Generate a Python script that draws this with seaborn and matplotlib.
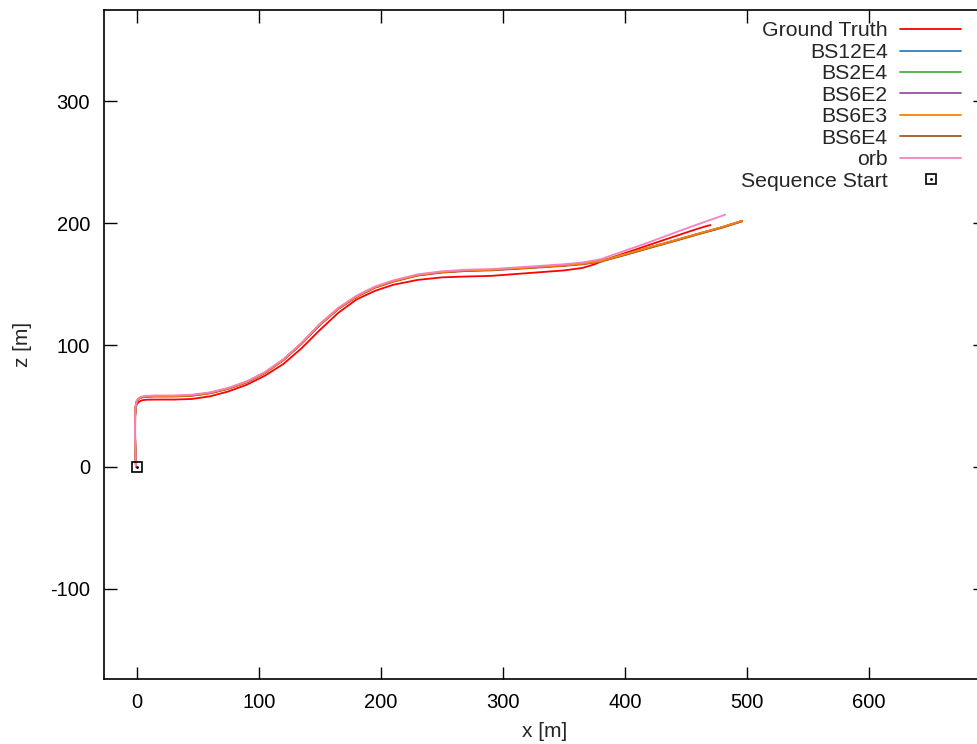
import matplotlib
matplotlib.use("Agg")
import matplotlib.pyplot as plt
from matplotlib.lines import Line2D
import seaborn as sns
import pandas as pd

# ---- trajectory data (x / z in metres) ----
gt_x = [-0.8, -1.2, -1.5, -1.4, -1.0, 0.0, 2, 4.5, 8, 15, 30, 45, 60, 75, 90, 105, 120,
        135, 150, 165, 180, 195, 210, 230, 250, 270, 290, 310, 330, 350, 365, 375, 385,
        400, 420, 440, 455, 465, 470]
gt_z = [0, 12, 28, 42, 48.5, 51.8, 53.8, 54.8, 55.2, 55.3, 55.3, 55.8, 58, 62, 67.5, 75,
        84.5, 97.5, 112.5, 126.5, 137.5, 144.5, 149.5, 153.5, 155.6, 156.3, 156.8, 158.3,
        159.8, 161.3, 163.3, 166.3, 170.5, 175.5, 182.3, 189, 194, 197.2, 198.5]

est_x = [-0.8, -1.3, -1.6, -1.5, -1.1, -0.2, 1.5, 4, 7, 15, 30, 45, 60, 75, 90, 105, 120,
         135, 150, 165, 180, 195, 210, 230, 250, 270, 290, 310, 330, 350, 365, 380, 400,
         420, 440, 460, 480, 496]
bs12e4_z = [0, 12, 28, 42, 49.5, 53.8, 56.2, 57.3, 57.8, 58.1, 58.1, 58.7, 60.7, 64.4,
            69.7, 77.4, 87.9, 101.4, 116.9, 129.9, 139.9, 147.4, 152.4, 157.4, 159.9,
            161.2, 161.7, 162.9, 164.1, 165.4, 166.7, 168.9, 174.3, 180.0, 185.6, 191.3,
            196.8, 201.8]
bs2e4_z = [0, 12, 28, 42, 49.6, 53.9, 56.3, 57.4, 57.9, 58.2, 58.2, 58.8, 60.8, 64.5,
           69.8, 77.5, 88.0, 101.5, 117.0, 130.0, 140.0, 147.5, 152.5, 157.5, 160.0,
           161.3, 161.8, 163.0, 164.2, 165.5, 166.8, 169.0, 174.4, 180.1, 185.7, 191.4,
           196.9, 201.9]
bs6e2_z = [0, 12, 28, 42, 49.5, 53.8, 56.2, 57.3, 57.8, 58.1, 58.2, 58.7, 60.7, 64.4,
           69.7, 77.4, 87.9, 101.4, 116.9, 129.9, 139.9, 147.4, 152.4, 157.4, 159.9,
           161.2, 161.7, 162.9, 164.1, 165.4, 166.7, 168.9, 174.3, 180.0, 185.6, 191.3,
           196.9, 202.1]
bs6e3_z = [0, 12, 28, 42, 49.6, 53.9, 56.3, 57.4, 57.9, 58.2, 58.2, 58.8, 60.8, 64.5,
           69.8, 77.5, 88.0, 101.5, 117.0, 130.0, 140.0, 147.5, 152.5, 157.5, 160.0,
           161.3, 161.8, 163.0, 164.2, 165.5, 166.8, 169.0, 174.5, 180.2, 185.8, 191.5,
           197.0, 202.0]
bs6e4_z = [0, 12, 28, 42, 49.4, 53.6, 56.0, 57.0, 57.5, 57.8, 57.8, 58.4, 60.4, 64.1,
           69.4, 77.1, 87.6, 101.1, 116.6, 129.6, 139.6, 147.0, 152.0, 157.0, 159.5,
           160.8, 161.3, 162.5, 163.7, 165.0, 166.3, 168.4, 173.9, 179.6, 185.2, 190.9,
           196.4, 201.5]

orb_x = [-0.8, -1.3, -1.6, -1.5, -1.1, -0.2, 1.5, 4, 7, 15, 30, 45, 60, 75, 90, 105, 120,
         135, 150, 165, 180, 195, 210, 230, 250, 270, 290, 310, 330, 350, 365, 380, 400,
         420, 440, 460, 482]
orb_z = [0, 12, 28, 42, 49.8, 54.2, 56.7, 57.8, 58.3, 58.7, 58.7, 59.3, 61.3, 65.0,
         70.3, 78.0, 88.5, 102.0, 117.6, 130.6, 140.6, 148.1, 153.1, 158.1, 160.6,
         161.9, 162.4, 163.7, 165.0, 166.4, 167.8, 170.5, 177.5, 184.5, 192.0, 199.3,
         207.0]

start_x = [0]
start_z = [0]

labels = ["Ground Truth", "BS12E4", "BS2E4", "BS6E2", "BS6E3", "BS6E4", "orb"]
xs = [gt_x, est_x, est_x, est_x, est_x, est_x, orb_x]
zs = [gt_z, bs12e4_z, bs2e4_z, bs6e2_z, bs6e3_z, bs6e4_z, orb_z]
# drawing order (BS6E3 over BS6E4)
draw_order = ["Ground Truth", "BS12E4", "BS2E4", "BS6E2", "BS6E4", "BS6E3", "orb"]

x_ticks = [0, 100, 200, 300, 400, 500, 600]
z_ticks = [-100, 0, 100, 200, 300]

# ---- style ----
sns.set_theme(style="ticks")
plt.rcParams["font.family"] = ["Liberation Sans", "DejaVu Sans"]
plt.rcParams["axes.linewidth"] = 1.2
plt.rcParams["axes.unicode_minus"] = False

set1 = sns.color_palette("Set1", 9)
colors = ["#ff0000", set1[1], set1[2], set1[3], set1[4], set1[6], set1[7]]

fig = plt.figure(figsize=(9.77, 7.44), dpi=100)
ax = fig.add_axes([104 / 977, 65 / 744, 881 / 977, 669 / 744])

frames = []
for lab, x, z in zip(labels, xs, zs):
    frames.append(pd.DataFrame({"x": x, "z": z, "run": lab}))
df = pd.concat(frames, ignore_index=True)

sns.lineplot(data=df, x="x", y="z", hue="run", hue_order=draw_order,
             palette=dict(zip(labels, colors)), sort=False, estimator=None,
             linewidth=1.3, ax=ax, legend=False)

ax.plot(start_x, start_z, linestyle="none", marker="s", markersize=6.5,
        markerfacecolor="none", markeredgecolor="black", markeredgewidth=1.2)
ax.plot(start_x, start_z, linestyle="none", marker=".", markersize=2.0, color="black")

ax.set_xlim(-27, 695)
ax.set_ylim(-174, 375)
ax.set_xticks(x_ticks)
ax.set_yticks(z_ticks)
ax.tick_params(direction="in", length=9, width=1.0, top=True, right=True,
               labelsize=14.5, pad=10, colors="black")
ax.set_xlabel("x [m]", fontsize=15, labelpad=7)
ax.set_ylabel("z [m]", fontsize=15, labelpad=13)
for s in ax.spines.values():
    s.set_color("black")

# legend in gnuplot fashion: label first, sample on the right
handles = [Line2D([], [], color=c, lw=1.3) for c in colors]
sq = Line2D([], [], linestyle="none", marker="s", markersize=6.5,
            markerfacecolor="none", markeredgecolor="black", markeredgewidth=1.2)
dot = Line2D([], [], linestyle="none", marker=".", markersize=2.0, color="black")
handles.append((sq, dot))
leg = fig.legend(handles, labels + ["Sequence Start"], loc="upper right",
                 bbox_to_anchor=(961 / 977, 1 - 21.5 / 744), markerfirst=False,
                 frameon=False, fontsize=15.3, handlelength=2.85, handletextpad=0.6,
                 labelspacing=0.115, borderpad=0, borderaxespad=0)

fig.savefig("out.png", dpi=100)
